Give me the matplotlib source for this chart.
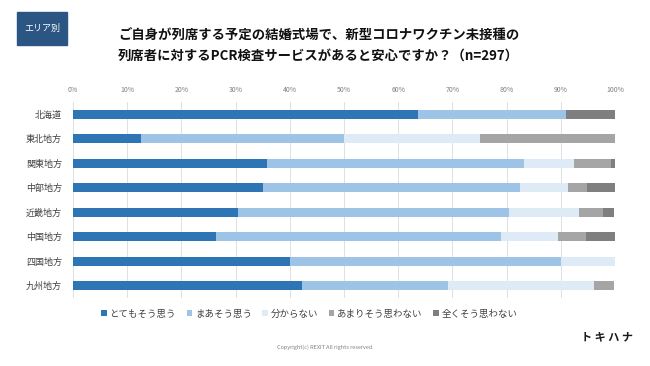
import matplotlib
matplotlib.use("Agg")
import matplotlib.pyplot as plt
from matplotlib.patches import Rectangle
import numpy as np

plt.rcParams['font.family'] = ['Noto Sans CJK JP', 'DejaVu Sans']

regions = ['北海道', '東北地方', '関東地方', '中部地方', '近畿地方', '中国地方', '四国地方', '九州地方']
answers = ['とてもそう思う', 'まあそう思う', '分からない', 'あまりそう思わない', '全くそう思わない']

# percent per answer, one value per region
very_yes = [63.6, 12.5, 35.8, 35.1, 30.4, 26.3, 40.0, 42.3]
some_yes = [27.3, 37.5, 47.5, 47.4, 50.0, 52.6, 50.0, 26.9]
dont_know = [0.0, 25.0, 9.2, 8.8, 13.0, 10.5, 10.0, 26.9]
some_no = [0.0, 25.0, 6.7, 3.5, 4.3, 5.3, 0.0, 3.8]
never = [9.1, 0.0, 0.8, 5.3, 2.2, 5.3, 0.0, 0.0]

series = [very_yes, some_yes, dont_know, some_no, never]
colors = ['#2e75b6', '#9dc3e6', '#deebf7', '#a5a5a5', '#7f7f7f']

fig = plt.figure(figsize=(6.5, 3.66), dpi=100)
ax = fig.add_axes([73 / 650, 1 - 298 / 366, 542 / 650, 196 / 366])

y = np.arange(len(regions))
left = np.zeros(len(regions))
for vals, col, name in zip(series, colors, answers):
    ax.barh(y, vals, left=left, height=0.38, color=col, label=name, zorder=3)
    left += np.array(vals)

ax.set_xlim(0, 100)
ax.set_ylim(len(regions) - 0.5, -0.5)
ax.set_xticks(np.arange(0, 101, 10))
ax.set_xticklabels([f'{v}%' for v in range(0, 101, 10)], fontsize=5, color='#7f7f7f')
ax.xaxis.tick_top()
ax.tick_params(axis='x', length=0, pad=6)
ax.set_yticks(y)
ax.set_yticklabels(regions, fontsize=6.5, color='#404040')
ax.tick_params(axis='y', length=0, pad=8)
ax.grid(axis='x', color='#e0e0e0', linewidth=0.7, zorder=0)
for s in ax.spines.values():
    s.set_visible(False)

# area tag
fig.patches.append(Rectangle((17 / 650, 1 - 45 / 366), 50 / 650, 33 / 366,
                             transform=fig.transFigure, color='#2b5582'))
fig.text(42 / 650, 1 - 28 / 366, 'エリア別', color='white', fontsize=6.5,
         ha='center', va='center')

fig.text(0.49, 1 - 36 / 366, 'ご自身が列席する予定の結婚式場で、新型コロナワクチン未接種の',
         fontsize=9.6, fontweight='bold', ha='center', va='center', color='#111111')
fig.text(0.49, 1 - 56 / 366, '列席者に対するPCR検査サービスがあると安心ですか？（n=297）',
         fontsize=9.6, fontweight='bold', ha='center', va='center', color='#111111')

handles, labels = ax.get_legend_handles_labels()
fig.legend(handles, labels, loc='center', bbox_to_anchor=(0.476, 1 - 314 / 366),
           ncol=5, frameon=False, fontsize=6.8, handlelength=0.6, handleheight=0.6,
           handletextpad=0.3, columnspacing=1.1, labelcolor='#404040')

fig.text(0.5, 1 - 347 / 366, 'Copyright(c) REXIT All rights reserved.', fontsize=4,
         color='#808080', ha='center', va='center')
fig.text(607 / 650, 1 - 337 / 366, 'ト キ ハ ナ', fontsize=8, fontweight='bold',
         ha='center', va='center', color='#1a1a1a')

fig.savefig('out.png', dpi=100)
